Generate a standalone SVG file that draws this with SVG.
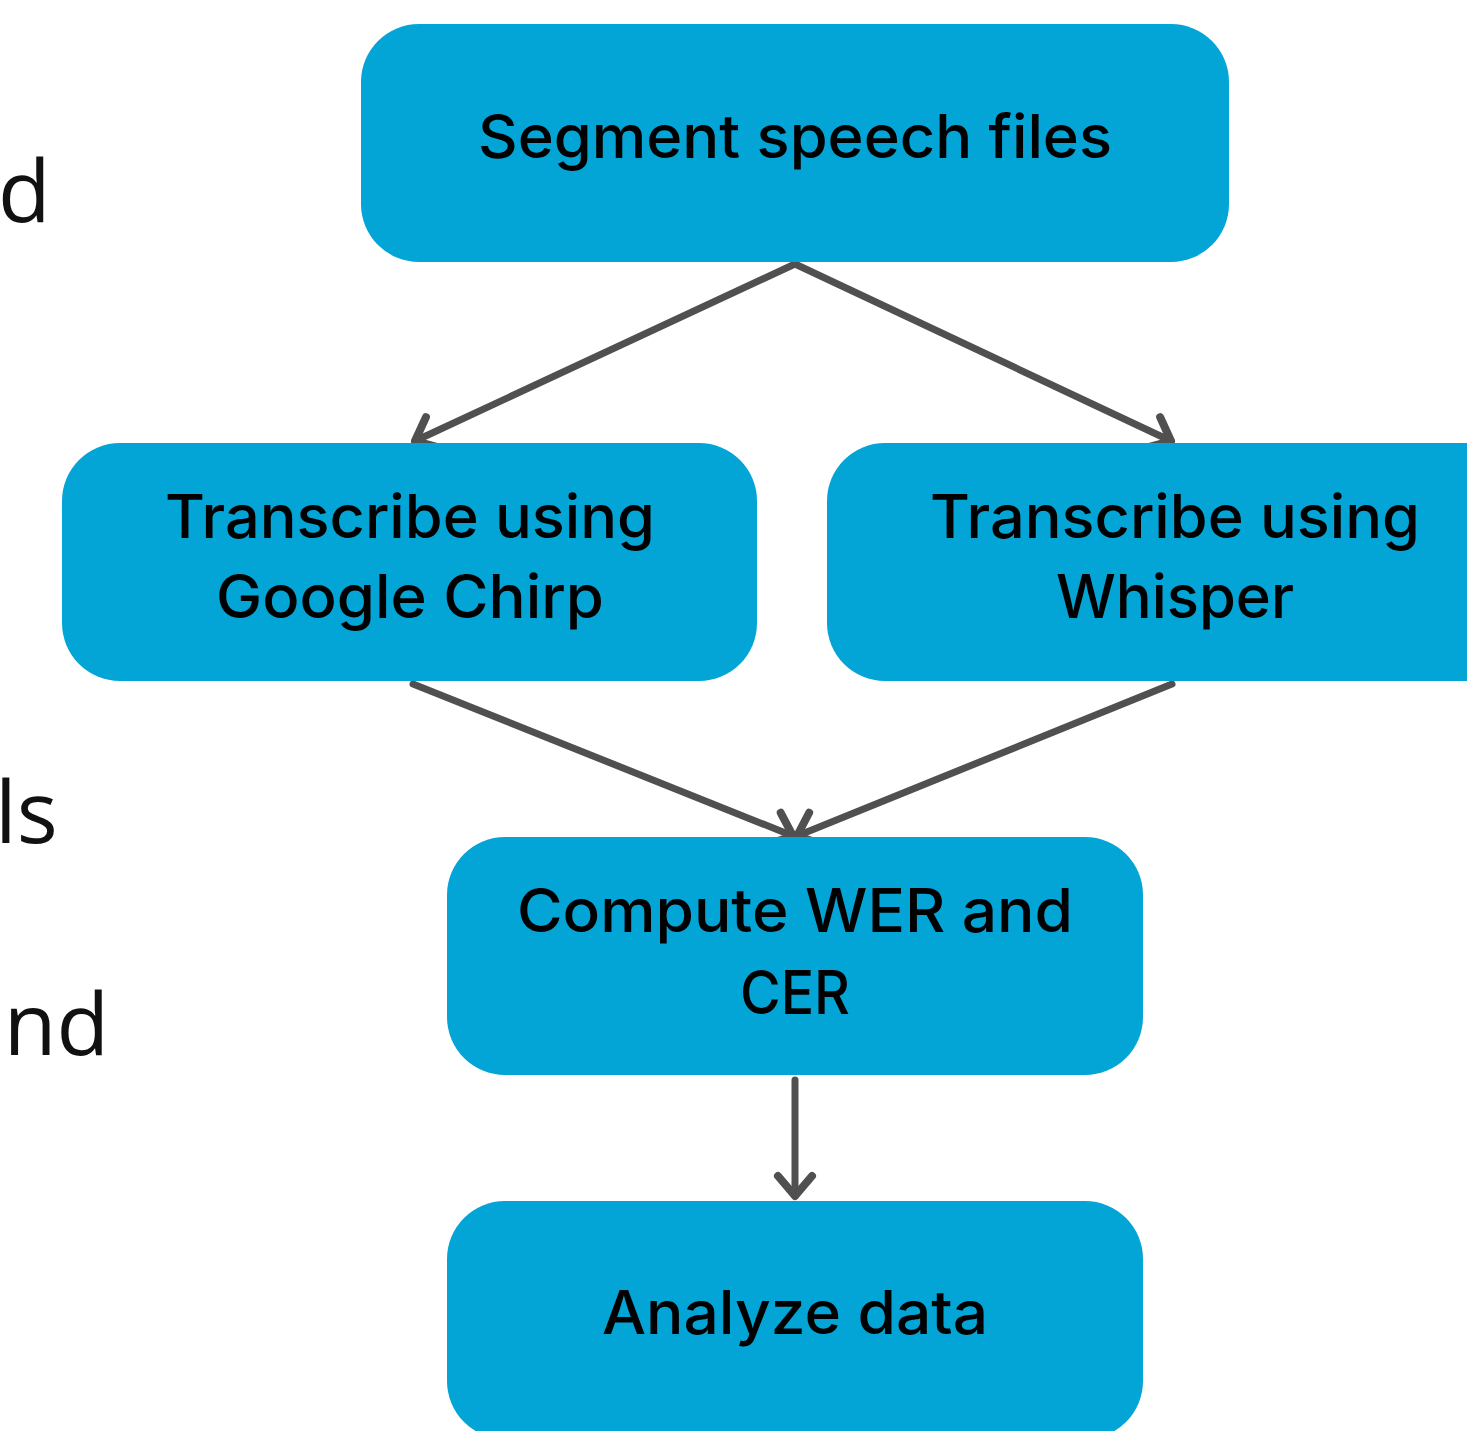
<svg xmlns="http://www.w3.org/2000/svg" width="1467" height="1431" viewBox="0 0 1467 1431">
<defs>
<style>
.box{fill:#03A4D6}
.lbl{font-family:Inter,"Noto Sans","Liberation Sans",sans-serif;font-size:60px;font-weight:500;fill:#000;text-anchor:middle}
.side{font-family:"Open Sans","Noto Sans","Liberation Sans",sans-serif;font-size:86px;fill:#111}
.conn{fill:none;stroke:#505050;stroke-width:7;stroke-linecap:round;stroke-linejoin:round}
</style>
<marker id="ah" markerUnits="userSpaceOnUse" markerWidth="60" markerHeight="60" refX="30" refY="30" orient="auto" viewBox="0 0 60 60">
<path d="M10,13 L30,30 L10,47" fill="none" stroke="#505050" stroke-width="8" stroke-linecap="round" stroke-linejoin="round"/>
</marker>
</defs>
<rect width="1467" height="1431" fill="#fff"/>
<g id="side-text">
<text class="side" x="-2" y="222">d</text>
<text class="side" x="-5" y="843">ls</text>
<text class="side" x="-44" y="1055">and</text>
</g>
<g id="connectors">
<line class="conn" x1="795" y1="264" x2="415" y2="441" marker-end="url(#ah)"/>
<line class="conn" x1="795" y1="264" x2="1171" y2="441" marker-end="url(#ah)"/>
<line class="conn" x1="413" y1="684" x2="793" y2="836" marker-end="url(#ah)"/>
<line class="conn" x1="1172" y1="684" x2="797" y2="836" marker-end="url(#ah)"/>
<line class="conn" x1="795" y1="1080" x2="795" y2="1196" marker-end="url(#ah)"/>
</g>
<g id="node-segment">
<rect class="box" x="361" y="24" width="868" height="238" rx="58"/>
<text class="lbl" x="795" y="158" textLength="634" lengthAdjust="spacingAndGlyphs">Segment speech files</text>
</g>
<g id="node-chirp">
<rect class="box" x="62" y="443" width="695" height="238" rx="58"/>
<text class="lbl" x="410" y="538" textLength="490" lengthAdjust="spacingAndGlyphs">Transcribe using</text>
<text class="lbl" x="410" y="618" textLength="388" lengthAdjust="spacingAndGlyphs">Google Chirp</text>
</g>
<g id="node-whisper">
<rect class="box" x="827" y="443" width="700" height="238" rx="58"/>
<text class="lbl" x="1175" y="538" textLength="490" lengthAdjust="spacingAndGlyphs">Transcribe using</text>
<text class="lbl" x="1175" y="618" textLength="238" lengthAdjust="spacingAndGlyphs">Whisper</text>
</g>
<g id="node-compute">
<rect class="box" x="447" y="837" width="696" height="238" rx="58"/>
<text class="lbl" x="795" y="932" textLength="556" lengthAdjust="spacingAndGlyphs">Compute WER and</text>
<text class="lbl" x="795" y="1014" textLength="110" lengthAdjust="spacingAndGlyphs">CER</text>
</g>
<g id="node-analyze">
<rect class="box" x="447" y="1201" width="696" height="238" rx="58"/>
<text class="lbl" x="795" y="1334" textLength="386" lengthAdjust="spacingAndGlyphs">Analyze data</text>
</g>
</svg>
